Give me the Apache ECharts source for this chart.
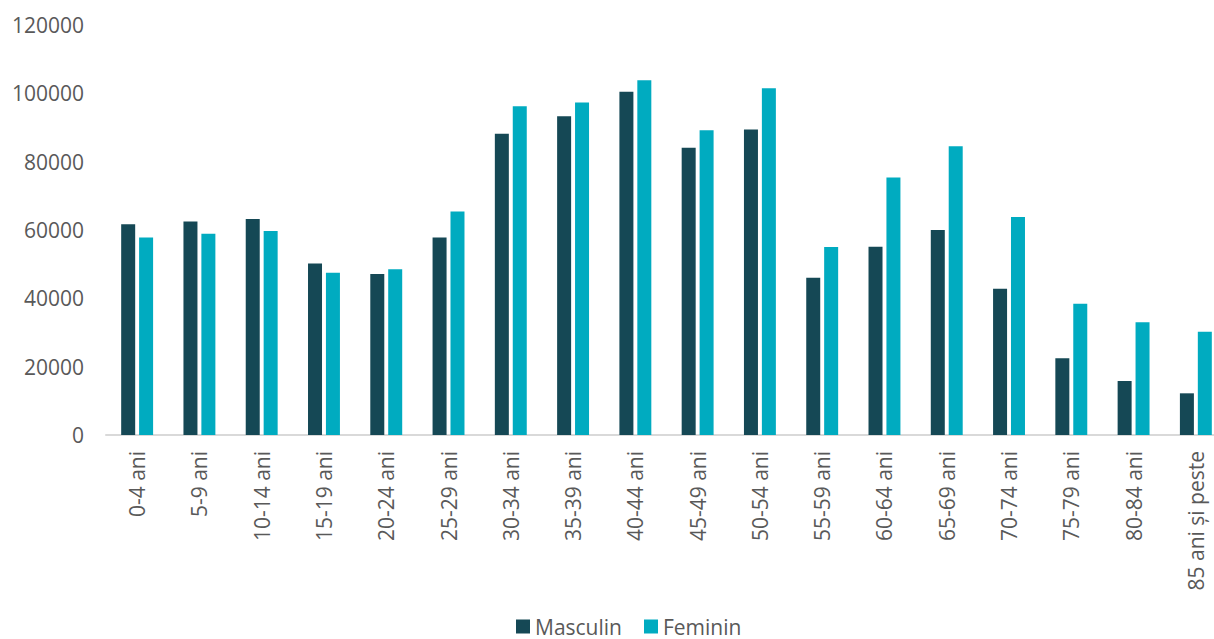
<!DOCTYPE html>
<html>
<head>
<meta charset="utf-8">
<style>
  html, body { margin: 0; padding: 0; background: #ffffff; }
  #chart { width: 1214px; height: 639px; }
</style>
<script src="https://cdn.jsdelivr.net/npm/echarts@6/dist/echarts.min.js"></script>
</head>
<body>
<div id="chart"></div>
<script>
var categories = ['0-4 ani', '5-9 ani', '10-14 ani', '15-19 ani', '20-24 ani', '25-29 ani',
  '30-34 ani', '35-39 ani', '40-44 ani', '45-49 ani', '50-54 ani', '55-59 ani',
  '60-64 ani', '65-69 ani', '70-74 ani', '75-79 ani', '80-84 ani', '85 ani și peste'];
var masculin = [61700, 62500, 63200, 50200, 47100, 57800, 88200, 93300, 100500, 84100, 89400,
  46000, 55100, 60000, 42800, 22500, 15800, 12200];
var feminin = [57800, 58900, 59700, 47500, 48500, 65400, 96200, 97300, 103800, 89200, 101500,
  55000, 75400, 84500, 63800, 38400, 33000, 30200];

(function() {
  var textColor = '#595959';
  var font = '"Open Sans", "Noto Sans", sans-serif';

  var chart = echarts.init(document.getElementById('chart'), null, { renderer: 'svg' });
  chart.setOption({
    animation: false,
    textStyle: { fontFamily: font },
    legend: {
      data: ['Masculin', 'Feminin'],
      bottom: 0,
      left: 511,
      padding: [0, 5, 2, 5],
      itemWidth: 14,
      itemHeight: 14,
      itemGap: 22,
      icon: 'rect',
      textStyle: { color: textColor, fontSize: 21, fontFamily: font }
    },
    grid: {
      left: 106, width: 1121, top: 25, bottom: 204,
      containLabel: false,
      outerBoundsMode: 'none'
    },
    xAxis: {
      type: 'category',
      data: categories,
      axisTick: { show: false },
      axisLine: { lineStyle: { color: '#d9d9d9', width: 2 } },
      axisLabel: {
        color: textColor,
        fontSize: 21,
        fontFamily: font,
        rotate: 90,
        interval: 0,
        margin: 16
      }
    },
    yAxis: {
      type: 'value',
      min: 0,
      max: 120000,
      interval: 20000,
      axisLine: { show: false },
      axisTick: { show: false },
      splitLine: { show: false },
      axisLabel: {
        color: textColor,
        fontSize: 21,
        fontFamily: font,
        margin: 22,
        formatter: function(v) { return String(v); }
      }
    },
    series: [
      {
        name: 'Masculin',
        type: 'bar',
        data: masculin,
        barWidth: 14,
        barGap: '28%',
        itemStyle: { color: '#154855' }
      },
      {
        name: 'Feminin',
        type: 'bar',
        data: feminin,
        barWidth: 14,
        itemStyle: { color: '#00abc0' }
      }
    ]
  });
  window.addEventListener('resize', function() { chart.resize(); });
})();
</script>
</body>
</html>
